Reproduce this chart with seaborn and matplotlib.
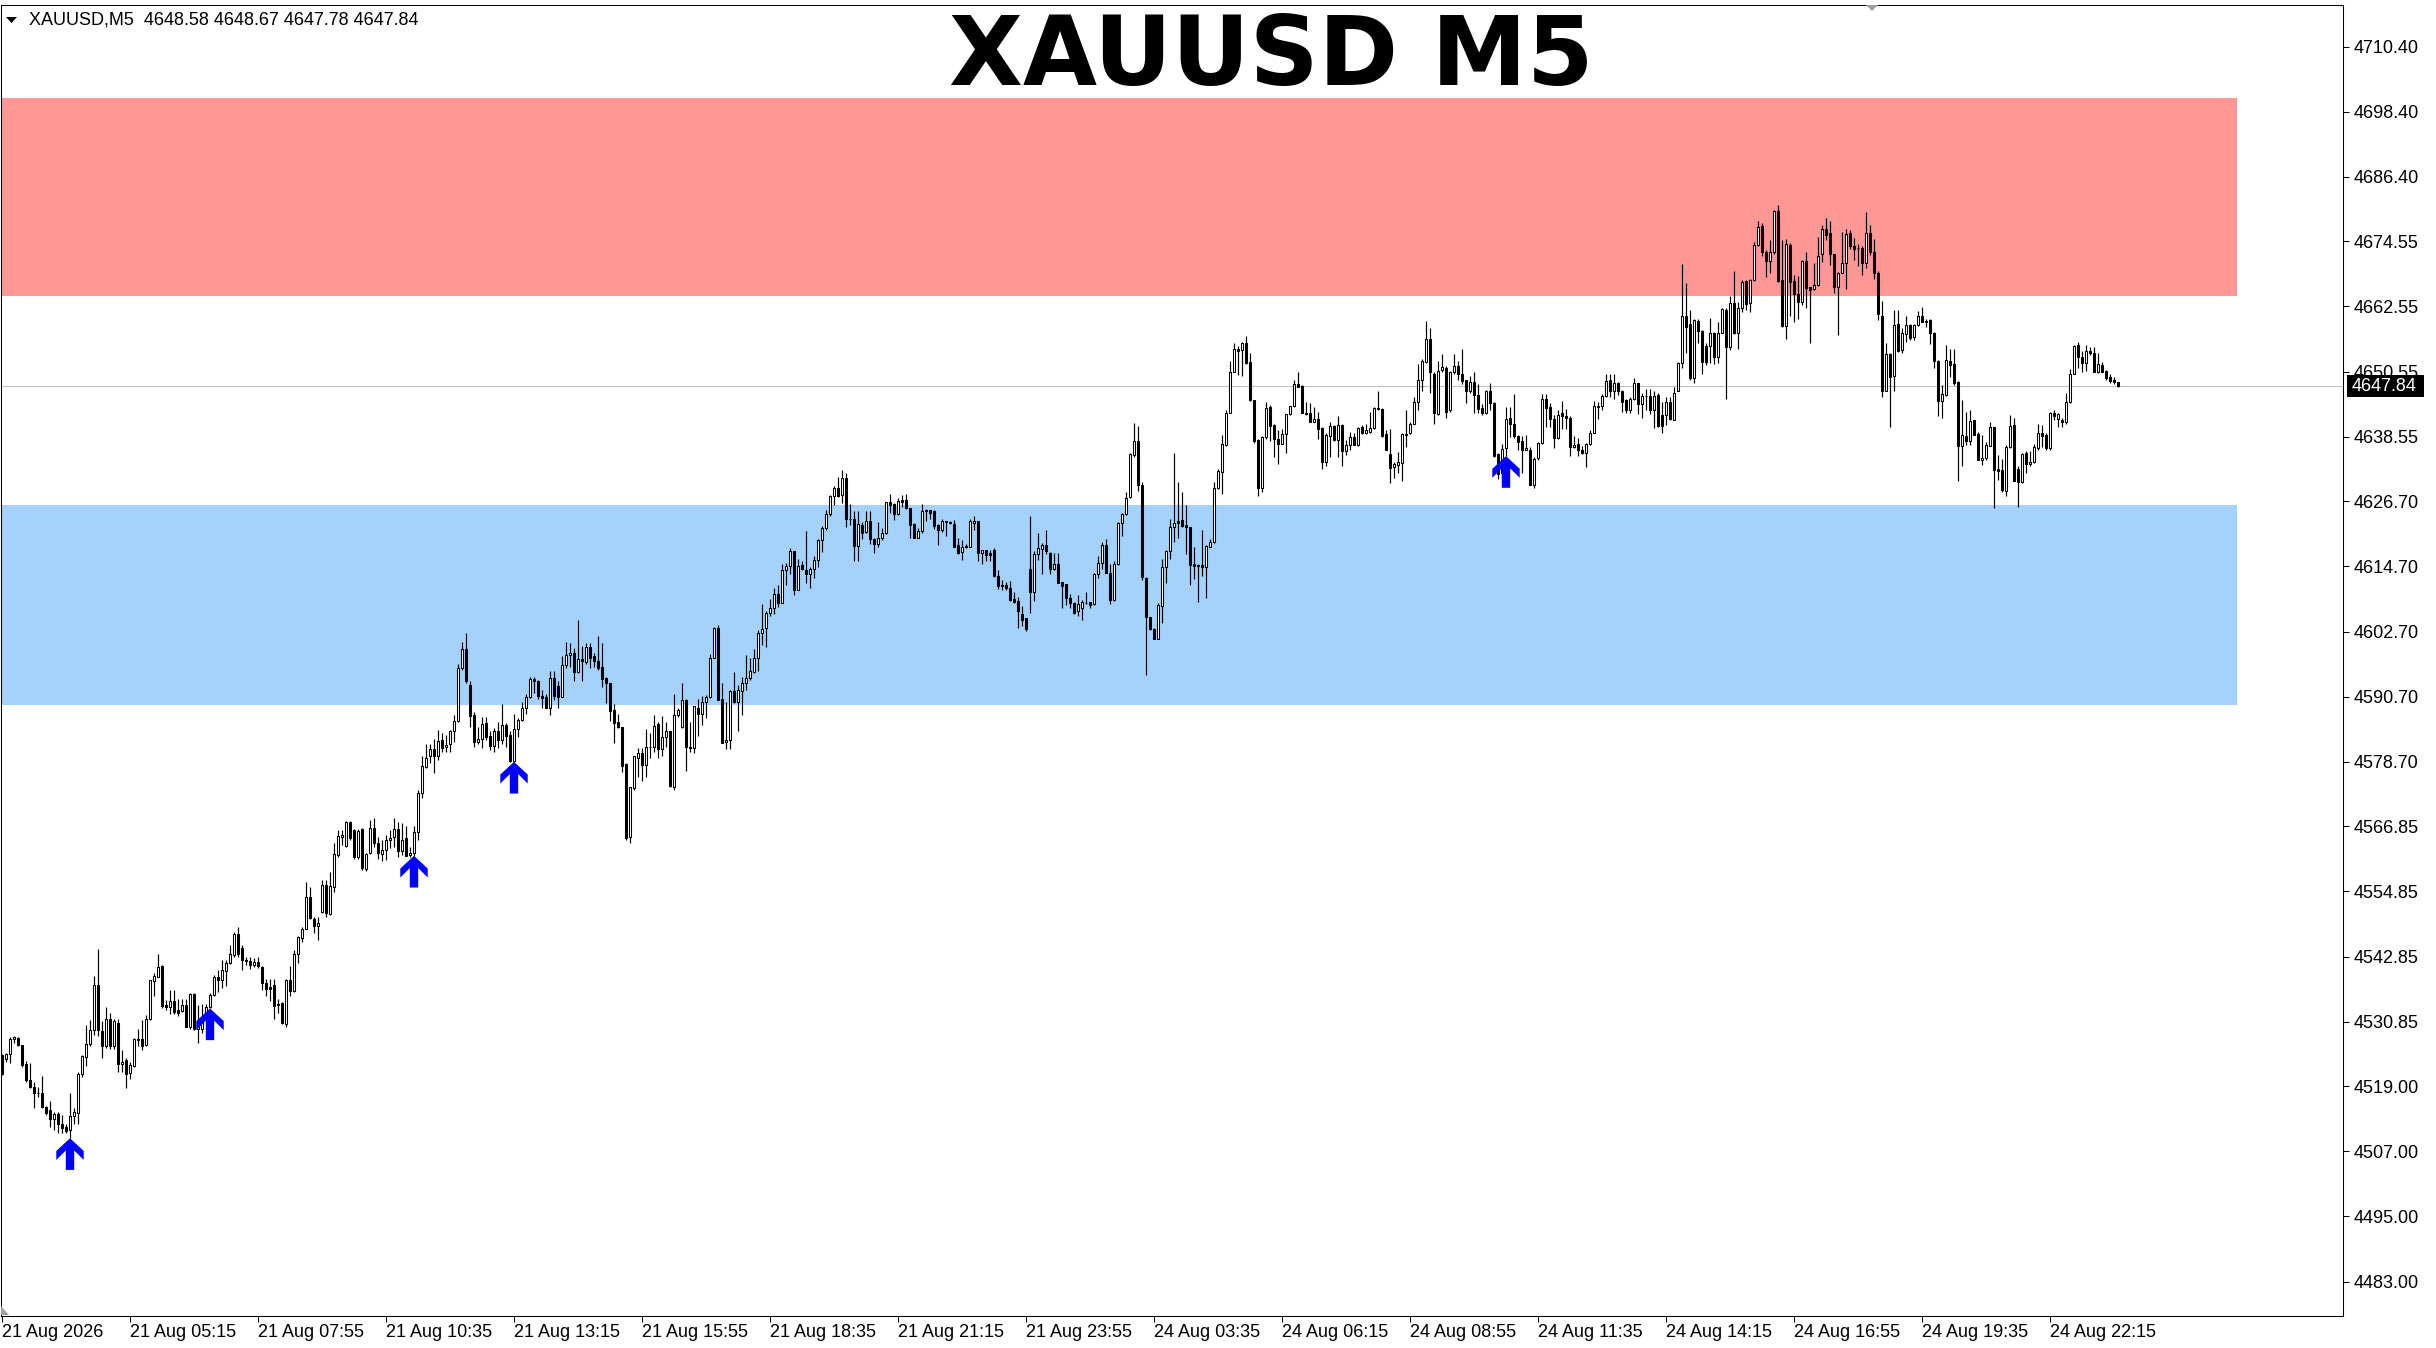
import numpy as np
import pandas as pd
import matplotlib
matplotlib.use("Agg")
import matplotlib.pyplot as plt
import matplotlib.transforms as mtransforms
from matplotlib.path import Path
from matplotlib.patches import Polygon, Rectangle
import seaborn as sns

# ---------------- data (XAUUSD M5 candles) ----------------
symbol = "XAUUSD"
timeframe = "M5"

opens = [
    4524.7, 4523.9, 4524.9, 4527.6, 4527.8, 4526.5, 4523.1, 4520.2, 4518.8, 4517.8,
    4517.8, 4515.1, 4514.6, 4513.0, 4513.8, 4512.0, 4511.4, 4510.9, 4513.5, 4514.1,
    4521.2, 4524.3, 4526.7, 4529.3, 4537.6, 4529.2, 4526.4, 4531.4, 4526.3, 4530.7,
    4523.0, 4523.8, 4521.5, 4522.7, 4527.5, 4527.6, 4526.6, 4531.3, 4538.4, 4539.1,
    4541.1, 4533.9, 4533.5, 4534.7, 4533.0, 4532.9, 4533.9, 4529.9, 4535.9, 4529.6,
    4529.6, 4531.8, 4533.5, 4535.8, 4539.1, 4538.5, 4540.2, 4541.6, 4543.1, 4547.0,
    4544.4, 4542.3, 4542.1, 4541.3, 4541.9, 4541.0, 4538.0, 4537.3, 4537.6, 4534.2,
    4534.3, 4530.5, 4538.5, 4536.6, 4543.3, 4546.2, 4548.0, 4553.9, 4549.7, 4548.4,
    4551.1, 4556.0, 4550.7, 4555.7, 4561.5, 4564.8, 4563.2, 4567.7, 4566.2, 4561.1,
    4566.3, 4558.9, 4561.9, 4566.6, 4563.7, 4561.7, 4562.5, 4564.4, 4564.8, 4566.3,
    4562.2, 4564.6, 4561.5, 4561.9, 4565.7, 4572.9, 4577.8, 4579.8, 4581.0, 4579.8,
    4582.7, 4581.4, 4582.0, 4584.4, 4586.3, 4595.9, 4599.4, 4592.9, 4587.3, 4582.4,
    4583.0, 4585.8, 4583.5, 4581.6, 4584.4, 4582.7, 4585.5, 4583.6, 4578.9, 4584.7,
    4586.4, 4588.7, 4590.6, 4593.9, 4593.6, 4590.9, 4590.7, 4588.7, 4594.1, 4592.7,
    4590.7, 4596.5, 4598.3, 4598.7, 4595.3, 4597.6, 4597.1, 4599.9, 4598.2, 4597.3,
    4596.1, 4594.1, 4593.2, 4588.2, 4586.0, 4585.1, 4578.3, 4564.9, 4573.8, 4579.5,
    4580.3, 4578.1, 4581.4, 4581.4, 4585.7, 4581.0, 4583.2, 4584.3, 4574.1, 4587.3,
    4585.1, 4590.1, 4581.2, 4581.2, 4588.7, 4587.6, 4589.8, 4590.6, 4597.9, 4603.3,
    4590.2, 4582.4, 4582.7, 4591.8, 4589.8, 4591.8, 4593.3, 4594.1, 4595.3, 4597.8,
    4602.5, 4603.3, 4606.2, 4607.0, 4609.7, 4608.0, 4614.0, 4614.8, 4617.5, 4610.3,
    4615.0, 4614.1, 4613.3, 4614.3, 4615.9, 4619.5, 4621.7, 4624.3, 4627.6, 4629.1,
    4627.8, 4630.9, 4623.5, 4623.4, 4618.5, 4622.3, 4621.1, 4623.1, 4619.8, 4618.9,
    4619.9, 4620.8, 4626.5, 4626.1, 4624.3, 4626.9, 4626.9, 4625.4, 4622.5, 4620.0,
    4621.2, 4625.1, 4625.1, 4624.8, 4622.3, 4621.4, 4623.0, 4622.9, 4622.5, 4618.6,
    4617.4, 4618.4, 4618.3, 4622.6, 4623.0, 4617.2, 4617.7, 4617.2, 4617.7, 4613.0,
    4611.3, 4611.3, 4610.8, 4608.6, 4608.3, 4606.0, 4605.1, 4614.2, 4610.0, 4616.9,
    4617.9, 4618.7, 4617.1, 4614.3, 4615.1, 4611.9, 4611.4, 4608.8, 4607.9, 4606.4,
    4607.0, 4608.0, 4608.1, 4607.8, 4613.3, 4615.4, 4618.6, 4613.5, 4608.5, 4615.2,
    4622.7, 4624.3, 4627.4, 4635.2, 4637.7, 4629.7, 4612.5, 4605.3, 4603.1, 4601.4,
    4607.4, 4614.6, 4617.6, 4621.9, 4623.0, 4623.2, 4622.3, 4621.9, 4615.2, 4614.9,
    4614.9, 4614.6, 4618.3, 4619.2, 4629.1, 4632.1, 4637.0, 4643.0, 4650.5, 4654.7,
    4654.5, 4655.8, 4652.4, 4645.3, 4638.0, 4629.1, 4638.5, 4644.0, 4640.7, 4638.1,
    4637.3, 4639.1, 4642.7, 4644.2, 4648.3, 4647.9, 4643.0, 4642.9, 4641.3, 4641.9,
    4640.1, 4634.0, 4638.7, 4640.5, 4638.0, 4640.7, 4636.0, 4637.0, 4638.6, 4637.0,
    4640.4, 4639.2, 4639.5, 4640.1, 4643.8, 4643.6, 4639.1, 4635.4, 4633.0, 4633.4,
    4633.7, 4638.9, 4639.2, 4641.0, 4645.0, 4649.1, 4652.4, 4656.5, 4650.2, 4642.8,
    4650.9, 4651.3, 4643.4, 4650.4, 4651.6, 4650.2, 4649.0, 4647.0, 4648.7, 4646.3,
    4643.8, 4643.0, 4646.9, 4644.8, 4635.4, 4631.9, 4636.4, 4642.1, 4641.0, 4638.7,
    4637.8, 4636.2, 4636.2, 4629.7, 4634.6, 4637.5, 4645.6, 4644.1, 4641.8, 4638.3,
    4642.9, 4642.3, 4642.1, 4636.7, 4637.2, 4636.2, 4635.6, 4637.2, 4639.3, 4644.1,
    4644.3, 4646.1, 4649.0, 4647.0, 4648.4, 4647.0, 4645.4, 4643.4, 4645.6, 4648.4,
    4644.6, 4646.1, 4646.1, 4643.5, 4646.3, 4642.6, 4642.6, 4645.0, 4641.7, 4646.9,
    4652.1, 4660.8, 4659.3, 4649.3, 4659.9, 4658.1, 4655.3, 4655.3, 4657.6, 4653.3,
    4657.7, 4661.9, 4655.0, 4663.1, 4657.6, 4662.2, 4667.3, 4663.2, 4667.4, 4673.9,
    4677.4, 4672.6, 4671.0, 4672.5, 4680.1, 4667.4, 4659.0, 4673.9, 4667.3, 4664.8,
    4663.3, 4671.0, 4666.1, 4665.7, 4666.5, 4672.2, 4676.9, 4676.1, 4672.2, 4666.1,
    4668.8, 4670.6, 4676.0, 4673.7, 4673.4, 4673.4, 4670.6, 4676.1, 4672.6, 4668.7,
    4660.8, 4647.0, 4653.8, 4649.7, 4659.3, 4654.6, 4657.5, 4659.1, 4656.9, 4659.1,
    4660.8, 4659.9, 4660.1, 4657.7, 4652.6, 4645.2, 4646.2, 4652.6, 4652.0, 4648.7,
    4636.9, 4638.7, 4637.8, 4641.6, 4639.1, 4634.2, 4634.6, 4636.9, 4640.3, 4632.6,
    4632.4, 4628.6, 4636.6, 4640.7, 4632.6, 4630.3, 4635.5, 4633.5, 4634.0, 4636.4,
    4639.2, 4638.9, 4636.4, 4643.0, 4641.8, 4641.6, 4641.2, 4645.0, 4650.2, 4655.5,
    4653.2, 4652.1, 4654.4, 4654.0, 4650.5, 4651.8, 4650.7, 4649.5, 4649.0, 4648.58,
]

highs = [
    4525.0, 4525.1, 4528.1, 4528.2, 4528.1, 4526.6, 4523.6, 4523.2, 4519.8, 4518.9,
    4520.9, 4515.3, 4516.3, 4514.3, 4514.3, 4513.7, 4512.1, 4517.8, 4514.9, 4521.6,
    4524.7, 4530.2, 4531.2, 4539.3, 4544.2, 4530.9, 4533.5, 4532.4, 4531.3, 4531.3,
    4525.6, 4524.1, 4523.5, 4527.8, 4529.6, 4531.2, 4532.1, 4538.6, 4539.8, 4543.3,
    4541.3, 4534.8, 4536.7, 4536.7, 4535.0, 4535.0, 4535.0, 4536.1, 4536.1, 4533.9,
    4534.2, 4534.1, 4536.1, 4539.4, 4540.4, 4542.2, 4542.2, 4545.0, 4547.4, 4548.3,
    4545.0, 4542.8, 4542.8, 4542.5, 4542.8, 4541.1, 4538.8, 4538.8, 4538.8, 4535.1,
    4534.5, 4538.8, 4541.1, 4544.0, 4546.6, 4548.3, 4556.6, 4555.6, 4550.2, 4550.2,
    4556.9, 4556.9, 4558.5, 4563.8, 4566.1, 4566.1, 4567.9, 4567.9, 4566.3, 4566.3,
    4566.5, 4562.0, 4568.0, 4568.3, 4564.9, 4564.3, 4565.2, 4566.1, 4568.3, 4567.7,
    4567.4, 4566.8, 4563.0, 4566.8, 4573.6, 4579.7, 4582.0, 4582.0, 4583.0, 4584.6,
    4584.0, 4583.6, 4584.6, 4587.3, 4596.7, 4600.8, 4602.4, 4593.5, 4587.9, 4585.2,
    4587.0, 4587.0, 4584.3, 4584.9, 4586.1, 4589.4, 4585.8, 4584.3, 4587.5, 4586.7,
    4589.8, 4591.2, 4594.3, 4594.4, 4593.8, 4591.9, 4591.2, 4595.5, 4595.5, 4593.6,
    4598.2, 4600.8, 4600.5, 4599.6, 4604.8, 4600.0, 4600.6, 4600.6, 4598.8, 4601.9,
    4600.5, 4594.3, 4593.3, 4589.4, 4587.6, 4585.2, 4578.4, 4574.1, 4579.8, 4581.2,
    4581.2, 4584.7, 4584.1, 4587.3, 4586.1, 4587.1, 4586.1, 4584.4, 4591.2, 4588.6,
    4593.2, 4590.2, 4586.1, 4589.0, 4590.2, 4590.8, 4591.0, 4598.6, 4603.5, 4603.9,
    4593.2, 4589.8, 4592.0, 4595.3, 4592.8, 4594.4, 4598.4, 4597.9, 4599.4, 4603.0,
    4607.8, 4606.4, 4608.6, 4610.7, 4611.3, 4615.2, 4615.4, 4618.0, 4617.6, 4616.0,
    4615.6, 4621.2, 4614.6, 4616.6, 4619.7, 4622.1, 4625.1, 4627.8, 4629.5, 4631.1,
    4632.4, 4631.8, 4626.2, 4624.9, 4624.9, 4622.9, 4624.9, 4624.9, 4620.0, 4622.9,
    4621.7, 4626.6, 4628.0, 4626.3, 4627.2, 4627.8, 4628.0, 4625.4, 4622.6, 4621.7,
    4626.2, 4625.2, 4625.1, 4625.1, 4622.5, 4623.5, 4623.1, 4623.1, 4623.2, 4619.9,
    4619.5, 4618.8, 4623.5, 4624.0, 4623.1, 4617.8, 4617.8, 4617.8, 4618.0, 4614.0,
    4612.2, 4611.9, 4612.0, 4610.0, 4609.1, 4607.4, 4605.1, 4624.0, 4617.6, 4620.8,
    4619.0, 4621.4, 4617.4, 4617.1, 4617.1, 4611.9, 4611.4, 4609.7, 4608.2, 4609.4,
    4608.5, 4610.0, 4608.2, 4613.4, 4616.6, 4619.1, 4619.7, 4615.2, 4615.6, 4622.8,
    4624.6, 4628.3, 4635.5, 4641.1, 4640.5, 4630.3, 4612.8, 4605.4, 4603.3, 4608.0,
    4616.0, 4617.8, 4623.5, 4635.5, 4630.3, 4628.3, 4626.0, 4622.0, 4618.3, 4615.2,
    4621.4, 4618.6, 4619.7, 4630.3, 4632.7, 4638.9, 4643.5, 4652.6, 4655.8, 4655.3,
    4656.1, 4657.1, 4654.0, 4645.4, 4638.1, 4638.7, 4645.0, 4644.4, 4640.9, 4639.8,
    4639.9, 4642.7, 4644.3, 4649.0, 4650.4, 4648.1, 4645.0, 4644.7, 4644.0, 4643.2,
    4640.3, 4639.2, 4641.3, 4640.7, 4642.4, 4641.0, 4638.0, 4639.5, 4639.3, 4640.4,
    4640.7, 4640.9, 4643.2, 4644.1, 4647.0, 4643.8, 4639.8, 4639.9, 4633.9, 4635.8,
    4639.2, 4643.4, 4641.2, 4645.9, 4651.9, 4652.8, 4659.9, 4658.5, 4650.4, 4652.6,
    4653.8, 4651.5, 4650.7, 4653.8, 4652.6, 4654.7, 4649.1, 4649.7, 4650.5, 4648.3,
    4644.6, 4647.1, 4648.5, 4645.0, 4635.5, 4637.3, 4644.0, 4644.0, 4646.4, 4638.9,
    4638.7, 4638.9, 4636.7, 4634.8, 4637.6, 4646.4, 4646.4, 4644.8, 4642.6, 4643.5,
    4645.2, 4643.6, 4642.3, 4638.7, 4638.4, 4636.8, 4637.5, 4639.8, 4645.2, 4645.0,
    4646.4, 4650.1, 4650.2, 4650.2, 4648.7, 4647.1, 4645.6, 4645.9, 4649.3, 4648.5,
    4646.6, 4647.3, 4647.3, 4647.0, 4646.7, 4645.0, 4645.9, 4645.9, 4647.7, 4652.4,
    4670.4, 4666.8, 4661.9, 4660.2, 4660.2, 4658.3, 4655.8, 4660.4, 4657.9, 4659.7,
    4662.2, 4662.2, 4664.4, 4669.1, 4663.3, 4667.4, 4667.4, 4667.7, 4674.5, 4678.2,
    4678.0, 4672.9, 4674.8, 4680.4, 4681.2, 4674.8, 4674.9, 4674.2, 4668.3, 4668.2,
    4671.1, 4672.5, 4666.1, 4670.5, 4675.4, 4677.6, 4678.8, 4678.2, 4672.3, 4668.9,
    4676.3, 4676.9, 4676.6, 4675.1, 4674.1, 4673.7, 4679.9, 4677.6, 4674.9, 4669.0,
    4663.6, 4655.9, 4654.0, 4661.9, 4661.9, 4658.5, 4660.8, 4659.3, 4659.4, 4661.8,
    4662.4, 4660.2, 4660.2, 4657.9, 4652.7, 4648.1, 4655.4, 4654.8, 4654.7, 4648.8,
    4645.4, 4643.2, 4643.5, 4641.7, 4639.5, 4638.9, 4637.6, 4641.3, 4640.4, 4635.2,
    4634.4, 4637.0, 4642.6, 4642.1, 4633.2, 4635.6, 4636.0, 4636.0, 4637.3, 4640.9,
    4640.7, 4639.2, 4643.2, 4643.5, 4643.0, 4642.1, 4646.6, 4651.0, 4655.4, 4656.1,
    4654.4, 4655.5, 4655.1, 4655.0, 4654.0, 4652.4, 4650.8, 4650.2, 4649.5, 4648.67,
]

lows = [
    4521.0, 4523.5, 4523.3, 4526.9, 4526.4, 4522.5, 4519.8, 4518.6, 4514.9, 4517.0,
    4514.9, 4513.7, 4511.5, 4511.0, 4510.4, 4510.4, 4510.3, 4509.4, 4512.1, 4512.1,
    4520.6, 4522.7, 4526.4, 4528.4, 4528.2, 4524.1, 4526.0, 4525.8, 4525.9, 4521.6,
    4521.6, 4518.6, 4520.4, 4522.6, 4526.3, 4525.6, 4526.4, 4531.2, 4535.5, 4539.0,
    4533.3, 4533.1, 4532.3, 4532.3, 4532.0, 4532.7, 4529.9, 4529.6, 4529.4, 4527.0,
    4528.7, 4531.6, 4533.3, 4535.6, 4536.4, 4537.0, 4537.4, 4541.5, 4542.8, 4542.8,
    4540.4, 4541.3, 4540.5, 4541.0, 4540.7, 4536.7, 4535.5, 4534.7, 4531.3, 4532.4,
    4530.5, 4529.9, 4535.5, 4536.4, 4541.7, 4545.6, 4548.0, 4549.7, 4547.1, 4545.9,
    4550.8, 4550.2, 4550.5, 4554.8, 4561.2, 4563.4, 4563.1, 4564.3, 4560.9, 4560.9,
    4558.8, 4558.6, 4561.7, 4563.0, 4560.9, 4560.5, 4560.6, 4562.8, 4563.1, 4561.2,
    4561.5, 4561.4, 4561.2, 4561.4, 4564.3, 4572.0, 4577.5, 4578.4, 4576.7, 4579.0,
    4580.6, 4580.6, 4580.6, 4582.4, 4586.1, 4595.7, 4593.2, 4585.2, 4581.5, 4582.0,
    4581.2, 4582.7, 4580.9, 4580.6, 4581.2, 4582.0, 4581.5, 4578.7, 4578.7, 4583.3,
    4586.3, 4587.6, 4590.4, 4591.3, 4590.2, 4588.7, 4588.6, 4587.3, 4590.1, 4588.7,
    4590.6, 4595.9, 4596.2, 4593.6, 4595.1, 4593.6, 4596.8, 4595.9, 4596.2, 4595.7,
    4592.4, 4589.5, 4586.3, 4582.2, 4584.9, 4576.9, 4564.4, 4563.7, 4573.6, 4576.0,
    4575.2, 4576.0, 4579.5, 4580.6, 4579.5, 4579.7, 4581.4, 4574.1, 4573.6, 4587.0,
    4584.9, 4577.1, 4580.6, 4580.3, 4583.5, 4585.5, 4586.7, 4590.4, 4597.8, 4590.0,
    4582.1, 4581.0, 4581.0, 4589.6, 4584.4, 4587.3, 4592.0, 4593.8, 4595.1, 4595.5,
    4600.2, 4599.9, 4605.6, 4606.0, 4607.3, 4607.9, 4611.3, 4613.3, 4609.4, 4610.3,
    4614.1, 4611.6, 4610.8, 4612.5, 4614.6, 4617.4, 4621.4, 4624.0, 4626.0, 4627.5,
    4626.3, 4622.0, 4622.3, 4615.6, 4615.6, 4619.7, 4620.9, 4618.9, 4617.2, 4618.3,
    4619.5, 4620.6, 4624.5, 4623.2, 4624.2, 4625.7, 4625.2, 4619.9, 4619.9, 4619.9,
    4620.9, 4623.1, 4623.5, 4621.5, 4618.6, 4621.1, 4620.3, 4622.5, 4618.2, 4617.0,
    4615.9, 4618.0, 4618.2, 4621.4, 4615.6, 4615.1, 4615.7, 4615.7, 4612.8, 4610.6,
    4610.3, 4610.3, 4608.4, 4607.9, 4603.4, 4603.7, 4602.8, 4606.2, 4608.4, 4615.9,
    4613.3, 4617.0, 4613.3, 4614.0, 4611.6, 4607.1, 4607.5, 4607.0, 4606.0, 4605.6,
    4604.8, 4607.8, 4607.0, 4607.6, 4612.5, 4614.3, 4613.5, 4607.8, 4608.4, 4615.0,
    4620.3, 4624.1, 4627.2, 4634.9, 4628.6, 4612.2, 4594.7, 4603.0, 4601.3, 4601.3,
    4604.3, 4611.7, 4616.0, 4619.1, 4620.0, 4621.9, 4617.0, 4611.3, 4612.3, 4608.2,
    4612.9, 4608.8, 4618.2, 4619.0, 4628.9, 4628.0, 4636.9, 4642.9, 4650.4, 4649.9,
    4649.7, 4652.0, 4645.2, 4637.5, 4627.6, 4628.3, 4638.1, 4637.8, 4634.9, 4633.5,
    4637.2, 4635.6, 4642.6, 4644.1, 4647.7, 4642.9, 4642.6, 4641.2, 4641.3, 4638.1,
    4632.7, 4633.1, 4634.8, 4637.8, 4634.9, 4633.2, 4635.2, 4636.1, 4637.0, 4636.9,
    4639.1, 4639.1, 4639.3, 4639.9, 4643.5, 4638.6, 4636.1, 4630.0, 4630.9, 4631.8,
    4630.5, 4636.7, 4639.1, 4640.9, 4643.5, 4647.0, 4652.2, 4646.7, 4640.9, 4642.6,
    4650.4, 4642.1, 4643.2, 4650.1, 4649.1, 4648.3, 4644.7, 4646.6, 4643.0, 4642.9,
    4642.6, 4642.8, 4643.5, 4634.9, 4630.7, 4631.0, 4635.0, 4638.6, 4638.3, 4636.1,
    4631.9, 4636.1, 4629.6, 4629.2, 4634.2, 4637.3, 4640.4, 4640.4, 4636.4, 4638.1,
    4639.9, 4639.9, 4635.0, 4636.4, 4635.0, 4635.4, 4633.0, 4637.1, 4639.2, 4641.9,
    4643.5, 4645.8, 4645.9, 4645.6, 4646.2, 4643.2, 4642.9, 4642.9, 4645.4, 4642.7,
    4642.1, 4643.5, 4642.7, 4640.1, 4640.3, 4639.3, 4640.7, 4641.7, 4641.6, 4646.9,
    4651.2, 4654.0, 4649.1, 4648.5, 4655.8, 4650.2, 4651.8, 4652.1, 4652.0, 4652.1,
    4657.6, 4645.6, 4654.5, 4657.5, 4654.7, 4661.6, 4661.9, 4661.6, 4667.3, 4673.7,
    4671.8, 4668.0, 4668.8, 4672.3, 4667.1, 4658.8, 4656.5, 4660.8, 4659.6, 4660.2,
    4662.8, 4662.2, 4655.8, 4665.6, 4666.3, 4670.8, 4674.8, 4670.2, 4665.1, 4657.3,
    4668.7, 4665.7, 4673.1, 4671.1, 4670.0, 4668.3, 4669.6, 4672.0, 4667.7, 4660.1,
    4645.8, 4647.0, 4640.3, 4646.9, 4654.2, 4653.9, 4656.1, 4656.3, 4656.3, 4659.0,
    4659.6, 4658.8, 4655.6, 4651.3, 4642.4, 4642.1, 4646.0, 4649.6, 4648.1, 4630.5,
    4633.1, 4637.0, 4637.0, 4638.9, 4634.2, 4633.4, 4634.3, 4636.8, 4625.4, 4630.6,
    4628.4, 4627.7, 4636.5, 4630.4, 4625.6, 4630.1, 4631.8, 4633.2, 4633.8, 4636.2,
    4636.7, 4636.2, 4636.2, 4641.6, 4640.3, 4640.4, 4641.0, 4644.8, 4650.1, 4651.3,
    4650.4, 4650.7, 4653.7, 4650.4, 4650.3, 4650.4, 4649.0, 4648.5, 4648.3, 4647.78,
]

closes = [
    4521.3, 4524.9, 4527.6, 4528.0, 4526.5, 4522.9, 4520.1, 4518.8, 4517.8, 4517.8,
    4515.1, 4514.1, 4513.0, 4513.8, 4512.1, 4511.2, 4510.8, 4513.5, 4514.3, 4521.3,
    4524.5, 4526.7, 4529.4, 4537.6, 4529.3, 4526.3, 4531.4, 4526.3, 4531.0, 4523.0,
    4523.4, 4521.3, 4522.9, 4527.6, 4527.6, 4526.4, 4531.4, 4538.5, 4539.3, 4541.0,
    4533.7, 4533.5, 4534.7, 4532.7, 4532.5, 4533.9, 4529.9, 4535.9, 4529.6, 4530.2,
    4531.8, 4533.6, 4535.8, 4539.1, 4538.5, 4540.4, 4541.6, 4543.3, 4547.0, 4543.3,
    4542.2, 4542.1, 4541.3, 4541.9, 4541.1, 4538.0, 4536.8, 4536.8, 4533.7, 4533.9,
    4530.7, 4538.5, 4536.6, 4543.4, 4546.5, 4548.0, 4553.9, 4549.9, 4548.5, 4549.1,
    4556.0, 4550.8, 4555.8, 4561.7, 4565.0, 4565.2, 4567.7, 4564.7, 4561.1, 4566.0,
    4559.1, 4561.7, 4566.5, 4563.8, 4562.0, 4562.5, 4564.4, 4564.6, 4566.3, 4562.2,
    4564.4, 4561.4, 4561.9, 4565.7, 4572.9, 4577.9, 4579.5, 4581.0, 4579.8, 4582.6,
    4581.2, 4581.8, 4584.3, 4586.3, 4595.9, 4599.4, 4593.5, 4587.1, 4582.4, 4583.0,
    4585.7, 4583.3, 4581.6, 4584.4, 4582.7, 4585.5, 4583.5, 4578.9, 4584.7, 4586.4,
    4588.7, 4590.6, 4593.9, 4593.5, 4590.8, 4590.5, 4588.7, 4594.1, 4590.8, 4590.7,
    4596.5, 4598.3, 4598.7, 4595.3, 4597.6, 4597.3, 4599.9, 4597.9, 4597.3, 4595.9,
    4593.9, 4593.2, 4588.1, 4585.8, 4585.1, 4578.0, 4564.6, 4574.0, 4579.7, 4580.3,
    4578.1, 4581.4, 4581.5, 4585.3, 4581.0, 4583.3, 4584.3, 4574.2, 4587.3, 4588.2,
    4590.1, 4581.5, 4581.5, 4588.9, 4587.6, 4589.8, 4590.6, 4597.9, 4603.3, 4590.1,
    4582.2, 4582.7, 4591.8, 4589.8, 4591.9, 4593.3, 4594.1, 4595.5, 4597.8, 4602.5,
    4603.1, 4606.2, 4607.0, 4609.7, 4608.0, 4614.0, 4614.8, 4617.5, 4610.3, 4614.8,
    4614.3, 4613.3, 4614.3, 4615.9, 4619.5, 4621.7, 4624.3, 4627.6, 4629.1, 4627.7,
    4630.9, 4623.5, 4623.4, 4618.5, 4622.5, 4620.9, 4623.1, 4619.7, 4618.9, 4619.9,
    4620.8, 4626.5, 4626.0, 4624.3, 4626.8, 4626.6, 4625.4, 4622.3, 4620.0, 4621.2,
    4624.8, 4624.8, 4624.6, 4622.1, 4621.4, 4623.0, 4622.9, 4622.6, 4618.3, 4617.2,
    4618.3, 4618.2, 4623.0, 4623.0, 4617.2, 4617.7, 4616.8, 4616.8, 4612.9, 4611.1,
    4611.1, 4610.8, 4608.5, 4608.2, 4606.4, 4604.8, 4603.1, 4610.0, 4616.9, 4618.0,
    4618.7, 4617.6, 4614.3, 4615.1, 4611.7, 4611.1, 4608.8, 4607.9, 4606.2, 4607.8,
    4608.2, 4607.9, 4607.6, 4613.3, 4615.4, 4618.6, 4613.5, 4608.5, 4615.2, 4622.7,
    4624.3, 4627.2, 4635.4, 4637.7, 4629.7, 4612.7, 4605.3, 4603.1, 4601.4, 4607.6,
    4614.6, 4617.6, 4621.9, 4622.7, 4622.7, 4622.1, 4621.9, 4614.9, 4614.8, 4614.7,
    4614.6, 4618.4, 4619.2, 4629.1, 4632.3, 4637.2, 4643.0, 4650.5, 4654.7, 4654.4,
    4655.8, 4652.1, 4645.3, 4637.8, 4629.1, 4638.6, 4643.8, 4640.5, 4638.1, 4637.3,
    4639.1, 4642.7, 4644.2, 4648.3, 4647.8, 4643.0, 4642.8, 4641.3, 4641.9, 4639.9,
    4634.0, 4638.9, 4640.5, 4638.0, 4640.7, 4636.0, 4637.0, 4638.6, 4637.0, 4640.1,
    4639.2, 4639.8, 4640.1, 4643.8, 4643.6, 4638.7, 4636.2, 4632.9, 4633.5, 4634.0,
    4639.1, 4639.1, 4641.0, 4645.0, 4649.1, 4652.6, 4656.5, 4650.4, 4642.9, 4650.7,
    4651.4, 4643.2, 4650.4, 4651.6, 4650.1, 4648.9, 4647.0, 4648.7, 4646.3, 4643.6,
    4643.0, 4647.0, 4644.8, 4635.0, 4631.7, 4636.3, 4641.8, 4641.0, 4638.7, 4637.6,
    4636.1, 4636.4, 4629.7, 4634.4, 4637.5, 4645.6, 4643.8, 4641.8, 4638.3, 4642.6,
    4642.3, 4642.1, 4636.7, 4637.0, 4636.2, 4635.5, 4637.2, 4639.3, 4644.3, 4644.3,
    4646.1, 4648.9, 4647.0, 4648.4, 4646.9, 4645.0, 4643.4, 4645.6, 4648.4, 4644.6,
    4646.1, 4646.0, 4643.5, 4646.1, 4640.5, 4640.5, 4645.0, 4641.8, 4646.6, 4652.2,
    4660.8, 4658.8, 4649.3, 4660.1, 4658.1, 4652.4, 4652.4, 4657.6, 4653.3, 4657.7,
    4662.0, 4655.0, 4663.1, 4657.6, 4662.2, 4667.1, 4663.0, 4667.4, 4673.9, 4677.2,
    4672.5, 4671.0, 4672.6, 4680.1, 4667.3, 4659.0, 4674.1, 4667.1, 4664.8, 4663.3,
    4671.0, 4665.9, 4665.5, 4666.5, 4671.8, 4676.9, 4675.7, 4672.2, 4666.1, 4668.8,
    4670.6, 4675.9, 4673.6, 4673.1, 4673.3, 4670.5, 4676.1, 4672.6, 4668.7, 4661.2,
    4647.0, 4653.8, 4649.5, 4659.1, 4654.4, 4657.6, 4659.1, 4656.7, 4659.1, 4660.8,
    4659.7, 4659.7, 4657.7, 4652.6, 4645.2, 4646.4, 4652.7, 4651.8, 4648.5, 4636.9,
    4638.9, 4637.8, 4641.5, 4638.9, 4634.3, 4634.6, 4637.0, 4640.3, 4632.4, 4632.3,
    4628.8, 4636.6, 4640.5, 4630.5, 4630.3, 4635.4, 4633.5, 4634.0, 4636.7, 4639.2,
    4638.7, 4636.4, 4643.0, 4642.4, 4642.7, 4641.2, 4645.0, 4650.2, 4655.3, 4653.2,
    4652.1, 4654.4, 4654.0, 4650.5, 4652.0, 4650.5, 4649.3, 4648.9, 4648.7, 4647.84,
]

# time axis labels (one every 32 bars = 160 minutes of M5 bars)
x_tick_labels = [
    "21 Aug 2026", "21 Aug 05:15", "21 Aug 07:55", "21 Aug 10:35", "21 Aug 13:15",
    "21 Aug 15:55", "21 Aug 18:35", "21 Aug 21:15", "21 Aug 23:55", "24 Aug 03:35",
    "24 Aug 06:15", "24 Aug 08:55", "24 Aug 11:35", "24 Aug 14:15", "24 Aug 16:55",
    "24 Aug 19:35", "24 Aug 22:15",
]
bars_per_label = 32

y_tick_values = [
    4710.40, 4698.40, 4686.40, 4674.55, 4662.55, 4650.55, 4638.55, 4626.70, 4614.70,
    4602.70, 4590.70, 4578.70, 4566.85, 4554.85, 4542.85, 4530.85, 4519.00, 4507.00,
    4495.00, 4483.00,
]

supply_zone = (4664.5, 4700.9)   # red
demand_zone = (4589.2, 4626.0)   # blue
zone_end_bar = 558.75

signal_bars = [17, 52, 103, 128, 376]   # blue up arrows under these candles

# ---------------- drawing ----------------
sns.set_style("white")
plt.rcParams['font.family'] = ['Liberation Sans', 'DejaVu Sans']

W, H, DPI = 2436, 1348, 100
fig = plt.figure(figsize=(W / DPI, H / DPI), dpi=DPI, facecolor='white')


def fpx(x, y):
    return (x / W, 1 - y / H)


PL, PR, PT, PB = 1, 2343, 5, 1316
ax = fig.add_axes([PL / W, 1 - PB / H, (PR - PL) / W, (PB - PT) / H])
ax.set_facecolor('white')

o = np.array(opens)
hi = np.array(highs)
lo = np.array(lows)
c = np.array(closes)
idx = np.arange(len(o))
hi = np.maximum(hi, np.maximum(o, c))
lo = np.minimum(lo, np.minimum(o, c))

bar_px, bar0_px = 4.0, 2.0
x0 = (PL - bar0_px) / bar_px
x1 = (PR - bar0_px) / bar_px
ax.set_xlim(x0, x1)
y_lo, y_hi = 4476.67, 4718.06
ax.set_ylim(y_lo, y_hi)

# zones
for (zlo, zhi), col in [(supply_zone, '#FF9797'), (demand_zone, '#A4D2FC')]:
    ax.add_patch(Rectangle((x0, zlo), zone_end_bar - x0, zhi - zlo,
                           facecolor=col, edgecolor='none', zorder=0))

# current price line
ax.axhline(c[-1], color='#C0C0C0', lw=0.8, zorder=1)

# candles
ax.vlines(idx, lo, hi, colors='black', linewidth=0.85, zorder=2)
bull = c >= o
ax.bar(idx, np.abs(c - o), bottom=np.minimum(o, c), width=0.6,
       color=np.where(bull, 'white', 'black'), edgecolor='black',
       linewidth=0.75, zorder=3)

# signal arrows (tip at candle low)
arrow_verts = [(0, 0), (13.7, -12.7), (13.7, -21.7), (4.2, -12.2), (4.2, -31.7),
               (-4.2, -31.7), (-4.2, -12.2), (-13.7, -21.7), (-13.7, -12.7), (0, 0)]
arrow_path = Path(arrow_verts, [Path.MOVETO] + [Path.LINETO] * 8 + [Path.CLOSEPOLY])
sig = pd.DataFrame({'bar': signal_bars, 'price': lo[signal_bars]})
sns.scatterplot(data=sig, x='bar', y='price', marker=arrow_path,
                s=(2 * 31.7 * 72 / DPI) ** 2, color='#0000FF', edgecolor='none',
                linewidth=0, ax=ax, zorder=5, legend=False)
ax.set_xlabel('')
ax.set_ylabel('')

# axes / ticks
for s in ax.spines.values():
    s.set_visible(True)
    s.set_color('black')
    s.set_linewidth(0.75)
ax.yaxis.tick_right()
ax.set_yticks(y_tick_values)
ax.set_yticklabels([f"{v:.2f}" for v in y_tick_values])
x_tick_bars = [i * bars_per_label for i in range(len(x_tick_labels))]
ax.set_xticks(x_tick_bars)
ax.set_xticklabels(x_tick_labels, ha='left')
ax.tick_params(axis='both', direction='out', length=4, width=0.75, color='black',
               labelsize=13, labelcolor='black')
ax.tick_params(axis='x', bottom=True, top=False, pad=2)
ax.tick_params(axis='y', right=True, left=False, pad=4)
ax.grid(False)

# current price label on the price scale
trans = mtransforms.blended_transform_factory(fig.transFigure, ax.transData)
ppu = (PB - PT) / (y_hi - y_lo)
box_h = 22 / ppu
fig.add_artist(Rectangle((2347 / W, c[-1] - box_h / 2), 77 / W, box_h, transform=trans,
                         facecolor='black', edgecolor='none', zorder=3))
fig.text(2352 / W, c[-1], f"{c[-1]:.2f}", transform=trans, color='white',
         va='center', ha='left', fontsize=13, zorder=4)

# header line
fig.add_artist(Polygon([fpx(6, 17), fpx(17, 17), fpx(11.5, 23)], closed=True,
                       transform=fig.transFigure, facecolor='black', edgecolor='none'))
fig.text(29 / W, 1 - 20 / H,
         f"{symbol},{timeframe}  {o[-1]:.2f} {hi[-1]:.2f} {lo[-1]:.2f} {c[-1]:.2f}",
         va='center', ha='left', fontsize=13, color='black')

# big title
fig.text(1271 / W, 1 - 85.5 / H, f"{symbol} {timeframe}", ha='center', va='baseline',
         fontsize=69, fontweight='bold', family='DejaVu Sans', color='black')

# small gray markers (chart shift / corner)
fig.add_artist(Polygon([fpx(1866, 5), fpx(1878, 5), fpx(1872, 11)], closed=True,
                       transform=fig.transFigure, facecolor='#A0A0A0', edgecolor='none'))
fig.add_artist(Polygon([fpx(1, 1306), fpx(1, 1315), fpx(9, 1315)], closed=True,
                       transform=fig.transFigure, facecolor='#A0A0A0', edgecolor='none'))

fig.savefig('out.png', dpi=DPI, facecolor='white')
